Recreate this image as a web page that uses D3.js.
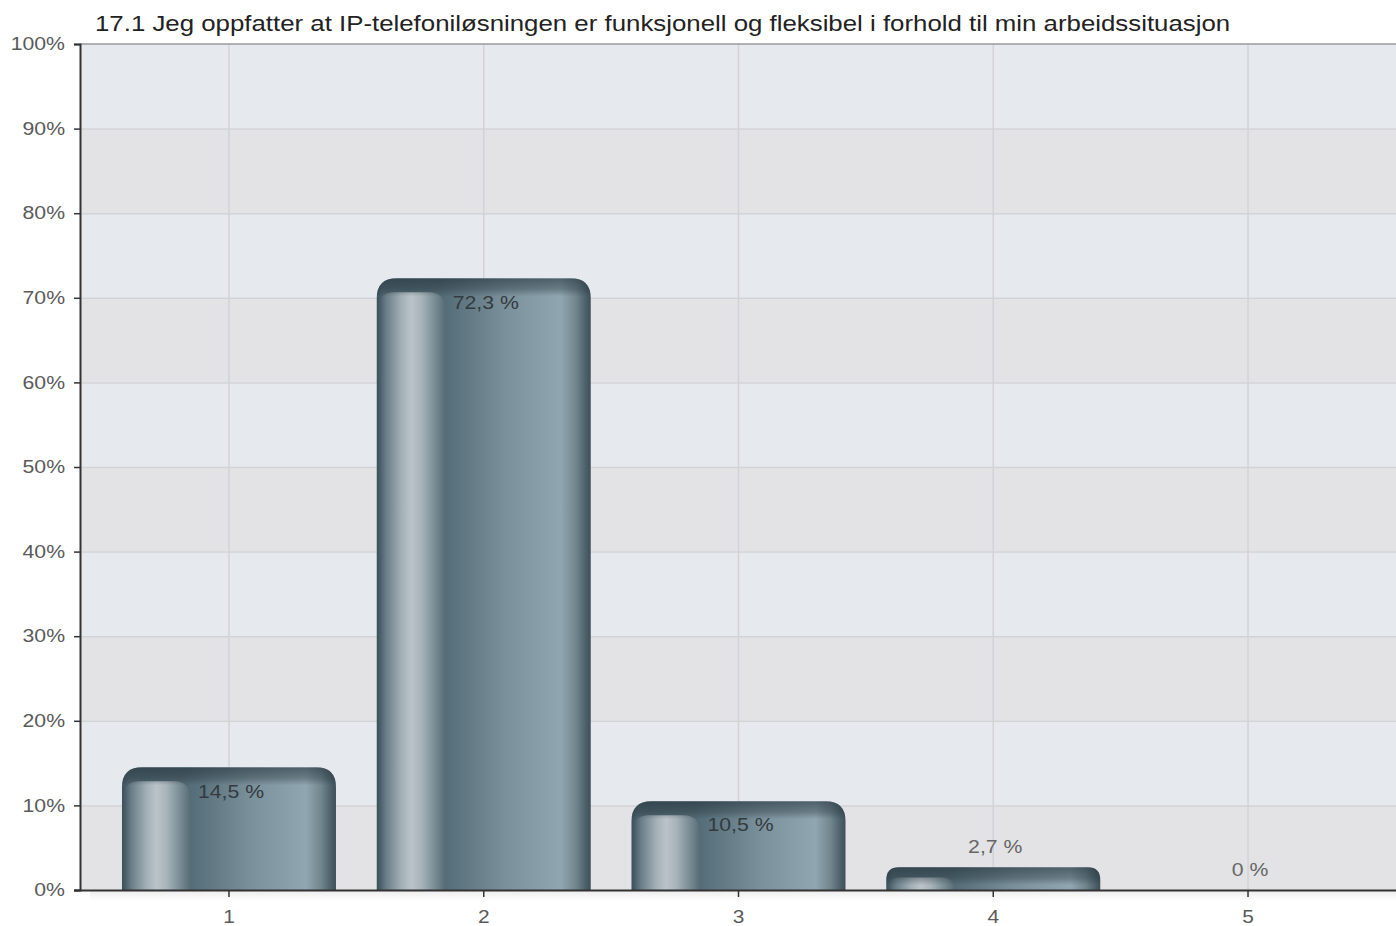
<!DOCTYPE html>
<html><head><meta charset="utf-8">
<script src="https://cdn.jsdelivr.net/npm/d3@7"></script>
<style>html,body{margin:0;padding:0;background:#fff}svg{display:block}</style>
</head><body>
<svg id="c" width="1396" height="926"></svg>
<script>
const title = "17.1 Jeg oppfatter at IP-telefoniløsningen er funksjonell og fleksibel i forhold til min arbeidssituasjon";
const categories = ["1","2","3","4","5"];
const values = [14.5, 72.3, 10.5, 2.7, 0];
const valueLabels = ["14,5 %","72,3 %","10,5 %","2,7 %","0 %"];
const yTicks = [0,10,20,30,40,50,60,70,80,90,100];

const svg = d3.select("#c");
const m = {left:80, top:44, bottom:890, right:1396};
const font = "'Liberation Sans', Arial, Helvetica, sans-serif";
const sx = 1.18;

const x = d3.scaleBand().domain(categories).range([101.6, 1375.4]).paddingInner(0.16).paddingOuter(0.08);
const y = d3.scaleLinear().domain([0,100]).range([m.bottom, m.top]);

const defs = svg.append("defs");
const g1 = defs.append("linearGradient").attr("id","barMain").attr("x1","0").attr("x2","1").attr("y1","0").attr("y2","0");
[[0,"#3c525c"],[0.03,"#4e646e"],[0.30,"#536a75"],[0.32,"#556d78"],[0.6,"#7a909b"],[0.86,"#90a6b1"],[0.93,"#71868f"],[0.98,"#4a5e68"],[1,"#3e515a"]]
  .forEach(([o,c])=>g1.append("stop").attr("offset",o).attr("stop-color",c));
const g2 = defs.append("linearGradient").attr("id","barHi").attr("x1","0").attr("x2","1").attr("y1","0").attr("y2","0");
[[0,"#3f555f"],[0.12,"#6a7e88"],[0.35,"#a3b0b7"],[0.5,"#bac3c9"],[0.65,"#a8b4ba"],[0.85,"#7a8c95"],[1,"#5a6e78"]]
  .forEach(([o,c])=>g2.append("stop").attr("offset",o).attr("stop-color",c));
const g3 = defs.append("linearGradient").attr("id","barCap").attr("x1","0").attr("x2","0").attr("y1","0").attr("y2","1");
[[0,"rgba(35,50,58,0.6)"],[0.6,"rgba(35,50,58,0.35)"],[1,"rgba(35,50,58,0)"]]
  .forEach(([o,c])=>g3.append("stop").attr("offset",o).attr("stop-color",c));
const g4 = defs.append("linearGradient").attr("id","axShadow").attr("x1","0").attr("x2","0").attr("y1","0").attr("y2","1");
g4.append("stop").attr("offset",0).attr("stop-color","rgba(0,0,0,0.07)");
g4.append("stop").attr("offset",1).attr("stop-color","rgba(0,0,0,0)");

for (let i=0;i<yTicks.length-1;i++){
  const a=yTicks[i], b=yTicks[i+1];
  svg.append("rect").attr("x",m.left).attr("y",y(b)).attr("width",m.right-m.left).attr("height",y(a)-y(b))
    .attr("fill", i%2===0 ? "#e3e3e5" : "#e6e9ed");
}
svg.append("g").selectAll("line").data(yTicks.slice(1,-1)).join("line")
  .attr("x1",m.left).attr("x2",m.right).attr("y1",d=>y(d)+0.5).attr("y2",d=>y(d)+0.5)
  .attr("stroke","#d2d3d6").attr("stroke-width",1.5);
svg.append("g").selectAll("line").data(categories).join("line")
  .attr("x1",d=>x(d)+x.bandwidth()/2).attr("x2",d=>x(d)+x.bandwidth()/2).attr("y1",m.top).attr("y2",m.bottom)
  .attr("stroke","#d2d3d6").attr("stroke-width",1.5);
svg.append("line").attr("x1",m.left).attr("x2",m.right).attr("y1",m.top).attr("y2",m.top).attr("stroke","#9a9a9a").attr("stroke-width",1.5);

function roundTop(x0,y0,w,h,r){
  r=Math.min(r,h,w/2);
  return `M${x0},${y0+h}V${y0+r}Q${x0},${y0} ${x0+r},${y0}H${x0+w-r}Q${x0+w},${y0} ${x0+w},${y0+r}V${y0+h}Z`;
}
const bars = svg.append("g");
categories.forEach((c,i)=>{
  const v=values[i]; if(v<=0) return;
  const x0=x(c), w=x.bandwidth(), y0=y(v), h=y(0)-y(v);
  const r=Math.min(20,h*0.55);
  bars.append("path").attr("d",roundTop(x0,y0,w,h,r)).attr("fill","url(#barMain)");
  const off=Math.min(14,h*0.45);
  const hw=w*0.31;
  bars.append("path").attr("d",roundTop(x0+1.5,y0+off,hw,h-off,Math.min(16,h-off))).attr("fill","url(#barHi)");
  const ch=Math.min(18,h);
  const cid="cap"+i;
  defs.append("clipPath").attr("id",cid).append("path").attr("d",roundTop(x0,y0,w,h,r));
  bars.append("rect").attr("x",x0).attr("y",y0).attr("width",w).attr("height",ch).attr("fill","url(#barCap)").attr("clip-path",`url(#${cid})`);
});

svg.append("rect").attr("x",90).attr("y",m.bottom+1).attr("width",m.right-90).attr("height",10).attr("fill","url(#axShadow)");

const yAxis = d3.axisLeft(y).tickValues(yTicks).tickFormat(d=>d+"%").tickSize(6).tickPadding(8);
const ya = svg.append("g").attr("transform",`translate(${m.left},0)`).call(yAxis);
ya.select(".domain").attr("stroke","#333").attr("stroke-width",2);
ya.selectAll(".tick line").attr("stroke","#333").attr("stroke-width",1.5);
ya.selectAll(".tick text").attr("font-family",font).attr("font-size",18).attr("fill","#5a5a5a")
  .attr("x",0).attr("transform",`translate(-15,0) scale(${sx},1)`);

const xAxis = d3.axisBottom(x).tickSize(7).tickSizeOuter(0).tickPadding(12.5);
const xa = svg.append("g").attr("transform",`translate(0,${m.bottom})`).call(xAxis);
xa.select(".domain").attr("d",`M${m.left-6},0.5H${m.right}`).attr("stroke","#333").attr("stroke-width",2);
xa.selectAll(".tick line").attr("stroke","#333").attr("stroke-width",1.5);
xa.selectAll(".tick text").attr("font-family",font).attr("font-size",19).attr("fill","#5a5a5a")
  .attr("transform",`scale(1.1,1)`);

svg.append("g").selectAll("text").data(categories).join("text")
  .attr("transform",(d,i)=>`translate(${x(d)+x.bandwidth()/2+2},${values[i]>5 ? y(values[i])+24 : y(values[i])-20}) scale(${sx},1)`)
  .attr("dy","0.35em").attr("text-anchor","middle")
  .attr("font-family",font).attr("font-size",18)
  .attr("fill",(d,i)=> values[i]>5 ? "#333b40" : "#666")
  .text((d,i)=>valueLabels[i]);

const t = svg.append("text").attr("font-family",font).attr("font-size",21.5).attr("fill","#222").text(title);
const tw = t.node().getComputedTextLength();
t.attr("transform",`translate(95,31) scale(${1136/tw},1)`);
</script>
</body></html>
